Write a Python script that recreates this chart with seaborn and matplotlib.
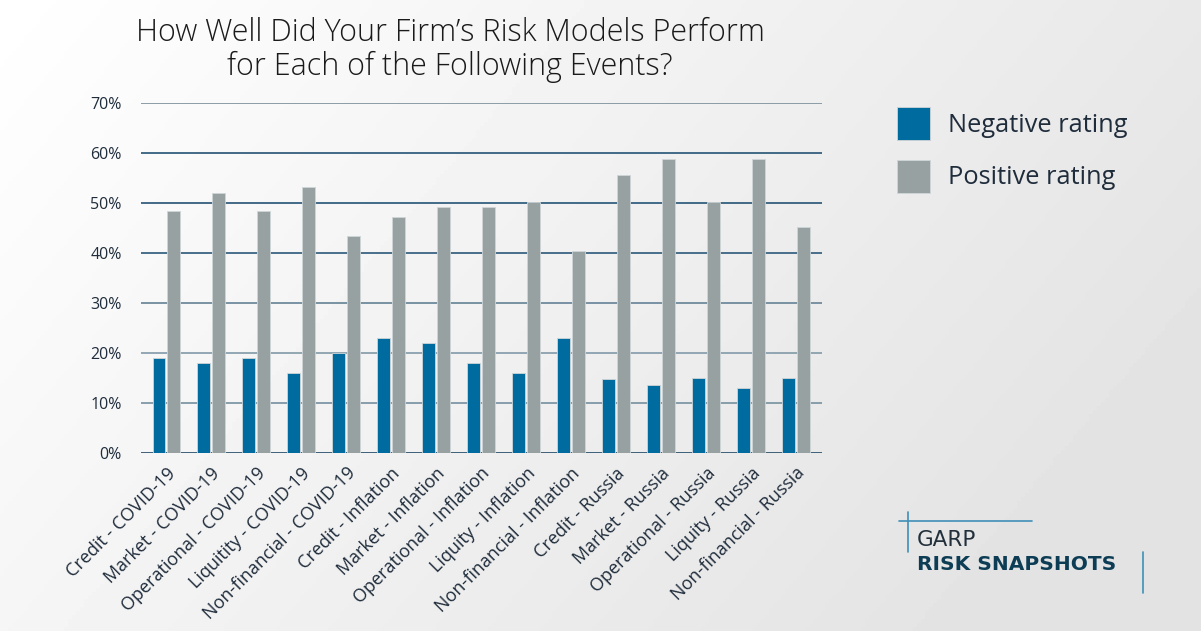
import numpy as np
import pandas as pd
import matplotlib
matplotlib.use("Agg")
import matplotlib.pyplot as plt
import seaborn as sns
from matplotlib.lines import Line2D

# Data (percent)
categories = [
    "Credit - COVID-19", "Market - COVID-19", "Operational - COVID-19",
    "Liquitity - COVID-19", "Non-financial - COVID-19",
    "Credit - Inflation", "Market - Inflation", "Operational - Inflation",
    "Liquity - Inflation", "Non-financial - Inflation",
    "Credit - Russia", "Market - Russia", "Operational - Russia",
    "Liquity - Russia", "Non-financial - Russia",
]
negative = [19, 18, 19, 16, 20, 23, 22, 18, 16, 23, 14.7, 13.5, 15, 12.9, 15]
positive = [48.3, 52, 48.3, 53.2, 43.3, 47.2, 49.2, 49.2, 50.2, 40.3,
            55.6, 58.7, 50.2, 58.7, 45.2]
series_names = ["Negative rating", "Positive rating"]
yticks = [0, 10, 20, 30, 40, 50, 60, 70]

df = pd.DataFrame({
    "category": categories * 2,
    "value": negative + positive,
    "series": [series_names[0]] * len(categories) + [series_names[1]] * len(categories),
})

sns.set_style("white")
plt.rcParams["font.family"] = ["Open Sans", "DejaVu Sans"]

BLUE = "#006b9e"
GRAY = "#98a1a1"
TXT = "#1f2c3b"
W, H = 1201, 631

fig = plt.figure(figsize=(12.01, 6.31), dpi=100)

# background gradient (white left -> light grey right)
bg = fig.add_axes([0, 0, 1, 1], zorder=-10)
xx, yy = np.meshgrid(np.linspace(0, 1, 300), np.linspace(0, 1, 160))
grad = 1.0 - 0.11 * np.clip(0.8 * xx + 0.35 * yy, 0, 1)
bg.imshow(grad, cmap="gray", vmin=0, vmax=1, aspect="auto", extent=[0, 1, 0, 1])
bg.axis("off")

ax = fig.add_axes([0.1174, 0.2821, 0.567, 0.5547])
ax.patch.set_alpha(0)

grid_colors = ["#2f5570", "#7f97a6", "#8aa0ae", "#6f8a9c", "#3a6482", "#345f7e", "#345f7e", "#8396a0"]
for yv, c in zip(yticks, grid_colors):
    ax.axhline(yv, color=c, lw=1.3, zorder=0)

sns.barplot(data=df, x="category", y="value", hue="series",
            palette=[BLUE, GRAY], saturation=1, width=0.64, gap=0.1, ax=ax,
            edgecolor="#cfd6d8", linewidth=0.6, zorder=2, legend=False)

ax.set_xlim(-0.56, 14.58)
ax.set_ylim(0, 70)
ax.set_yticks(yticks)
ax.set_yticklabels([f"{v}%" for v in yticks], fontsize=11.5, color=TXT)
ax.set_xticks(range(len(categories)))
ax.set_xticklabels(categories, rotation=45, ha="right", rotation_mode="anchor",
                   fontsize=13, color=TXT)
ax.tick_params(axis="both", length=0)
ax.tick_params(axis="y", pad=14)
ax.tick_params(axis="x", pad=8)
ax.set_xlabel("")
ax.set_ylabel("")
for s in ax.spines.values():
    s.set_visible(False)

fig.text(450 / W, 1 - 50 / H, "How Well Did Your Firm\u2019s Risk Models Perform\nfor Each of the Following Events?",
         ha="center", va="center", fontsize=22, color="#1a1a1a", linespacing=1.1,
         fontweight="light")

# legend, drawn by hand so it sits where the original has it
for i, (name, col) in enumerate(zip(series_names, [BLUE, GRAY])):
    top = 107 + i * 53
    fig.add_artist(plt.Rectangle((897 / W, 1 - (top + 33) / H), 33 / W, 33 / H,
                                 facecolor=col, edgecolor="#cfd6d8", lw=0.6,
                                 transform=fig.transFigure))
    fig.text(948 / W, 1 - (top + 18) / H, name, fontsize=18.3, color=TXT,
             ha="left", va="center")

# GARP logo
LOGO = "#3f8fb7"
fig.add_artist(Line2D([899 / W, 1032 / W], [1 - 521 / H] * 2, color=LOGO, lw=1.2))
fig.add_artist(Line2D([908 / W] * 2, [1 - 512 / H, 1 - 552 / H], color=LOGO, lw=1.2))
fig.add_artist(Line2D([1143 / W] * 2, [1 - 552 / H, 1 - 593 / H], color=LOGO, lw=1.2))
fig.text(917 / W, 1 - 540 / H, "GARP", fontsize=15.5, color="#22303c",
         ha="left", va="center", family="DejaVu Sans")
fig.text(917 / W, 1 - 565 / H, "RISK SNAPSHOTS", fontsize=14.5, color="#0d3d55",
         ha="left", va="center", family="DejaVu Sans", fontweight="bold")

fig.savefig("out.png", dpi=100)
